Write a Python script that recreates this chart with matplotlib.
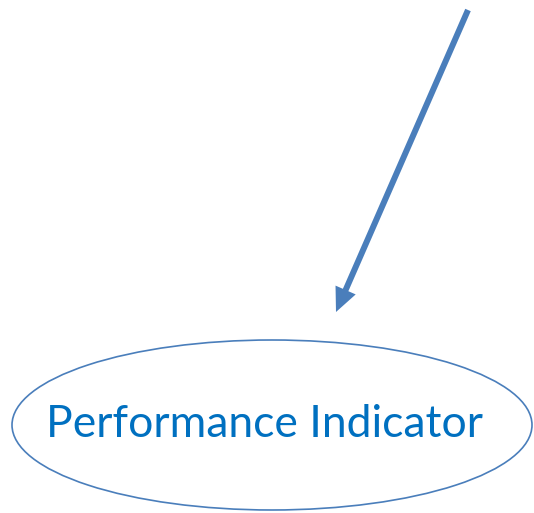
import matplotlib.pyplot as plt
from matplotlib.patches import Ellipse

# Diagram content
label = "Performance Indicator"
arrow_start = (468, 10)
arrow_end = (336, 312)
oval_center = (272, 425)
oval_size = (520, 170)

fig = plt.figure(figsize=(5.34, 5.13), dpi=100)
ax = fig.add_axes([0, 0, 1, 1])
ax.set_xlim(0, 534)
ax.set_ylim(513, 0)
ax.axis('off')

# Arrow pointing down-left
ax.arrow(arrow_start[0], arrow_start[1],
         arrow_end[0] - arrow_start[0], arrow_end[1] - arrow_start[1],
         width=6, head_width=22, head_length=24, length_includes_head=True,
         color='#4A7EBB', lw=0)

# Oval with label
ax.add_patch(Ellipse(oval_center, oval_size[0], oval_size[1],
                     fill=False, edgecolor='#4A7EBB', lw=1.2))
ax.text(265, 437, label, ha='center', va='baseline', fontsize=32,
        color='#0070C0', family=['Lato', 'DejaVu Sans'])

fig.savefig('out.png', dpi=100)
